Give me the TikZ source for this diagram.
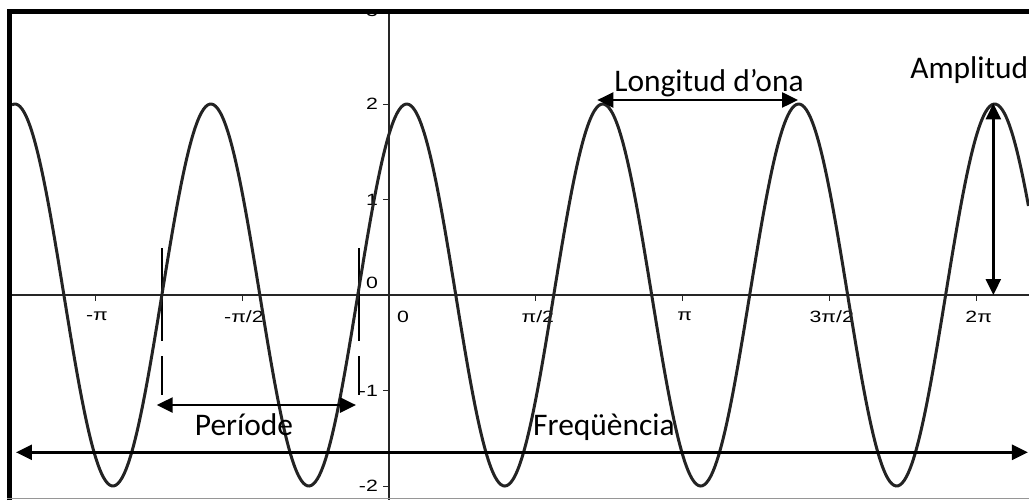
\documentclass[tikz,border=0pt]{standalone}
\usepackage{fontspec}
\usepackage{xcolor}
\usetikzlibrary{arrows.meta}
\setmainfont{Carlito}
\newfontfamily\axisfont{Liberation Sans}
\definecolor{curvegray}{RGB}{35,35,35}
\definecolor{framegray}{RGB}{150,150,150}
\newcommand{\axlab}[1]{\scalebox{1.3}[1]{\axisfont #1}}

\begin{document}
\begin{tikzpicture}[
    x=1.871cm, y=1.91cm,
    axis/.style={line width=0.025cm,black!85},
    tick/.style={line width=0.02cm,black!85},
    xlab/.style={font=\fontsize{9.3}{10}\selectfont,inner sep=0pt},
    ylab/.style={font=\fontsize{9.3}{10}\selectfont,inner sep=0pt,anchor=east},
    wave/.style={line width=0.06cm,curvegray},
    guide/.style={line width=0.03cm,dash pattern=on 1.86cm off 0.3cm},
    arrow/.style={{Triangle[length=0.32cm,width=0.3cm]}-{Triangle[length=0.32cm,width=0.3cm]},line width=0.05cm},
    lbl/.style={font=\fontsize{17.9}{20}\selectfont,inner sep=0pt,anchor=base}
  ]
    \useasboundingbox (-4.158,-2.147) rectangle (6.841,3.089);

    % axis labels
    \foreach \k/\t in {-2/-π,-1/{-π/2},1/{π/2},2/π,3/{3π/2},4/2π}
      \node[xlab] (xl\k) at ({\k*pi/2+0.02},-0.225) {\axlab{\t}};
    \node[xlab] (xl0) at (0.15,-0.225) {\axlab{0}};
    \foreach \v/\t in {2/2,1/1,-1/-1,-2/-2}
      \node[ylab] (yl\v) at (-0.115,\v) {\axlab{\t}};
    \node[ylab] (yl0) at (-0.115,0.126) {\axlab{0}};
    \begin{scope}
      \clip (-4.158,-2.147) rectangle (6.841,2.97);
      \node[ylab] (yl3) at (-0.115,2.974) {\axlab{3}};
    \end{scope}

    % axes and ticks
    \coordinate (xa) at (-4.03,0);
    \coordinate (xb) at (6.841,0);
    \coordinate (ya) at (0,2.97);
    \coordinate (yb) at (0,-2.147);
    \draw[axis] (xa) -- (xb);
    \draw[axis] (ya) -- (yb);
    \foreach \k in {-2,-1,1,2,3,4}
      \draw[tick] ({\k*pi/2},0) -- ({\k*pi/2},-0.063);
    \foreach \v in {2,1,-1,-2}
      \draw[tick] (-0.064,\v) -- (0,\v);

    % period guides
    \coordinate (g1-top) at (-2.426,0.492);
    \coordinate (g1-bot) at (-2.426,-1.047);
    \coordinate (g2-top) at (-0.321,0.492);
    \coordinate (g2-bot) at (-0.321,-1.047);
    \draw[guide] (g1-top) -- (g1-bot);
    \draw[guide] (g2-top) -- (g2-bot);

    % the wave
    \draw[wave] plot[domain=-4.03:6.841,samples=500,smooth] (\x,{2*sin(deg(3*\x+1))});

    % measures
    \coordinate (lw-a) at (2.227,2.042);
    \coordinate (lw-b) at (4.372,2.042);
    \coordinate (amp-top) at (6.460,2.007);
    \coordinate (amp-bot) at (6.460,0);
    \coordinate (per-a) at (-2.483,-1.152);
    \coordinate (per-b) at (-0.353,-1.152);
    \coordinate (freq-a) at (-3.987,-1.647);
    \coordinate (freq-b) at (6.830,-1.647);
    \draw[arrow] (lw-a) -- (lw-b);
    \draw[arrow] (amp-top) -- (amp-bot);
    \draw[arrow] (per-a) -- (per-b);
    \draw[arrow] (freq-a) -- (freq-b);

    \node[lbl] (lwtext) at (3.421,2.126) {Longitud d’ona};
    \node[lbl,anchor=base west] (amptext) at (5.569,2.262) {Amplitud};
    \node[lbl] (pertext) at (-1.55,-1.476) {Període};
    \node[lbl] (freqtext) at (2.298,-1.476) {Freqüència};

    % frame
    \draw[line width=0.095cm] (-4.0556,-2.147) -- (-4.0556,2.9707) -- (6.841,2.9707);
    \draw[framegray,line width=0.025cm] (-4.08,-2.1288) -- (6.841,-2.1288);
  \end{tikzpicture}
\end{document}
